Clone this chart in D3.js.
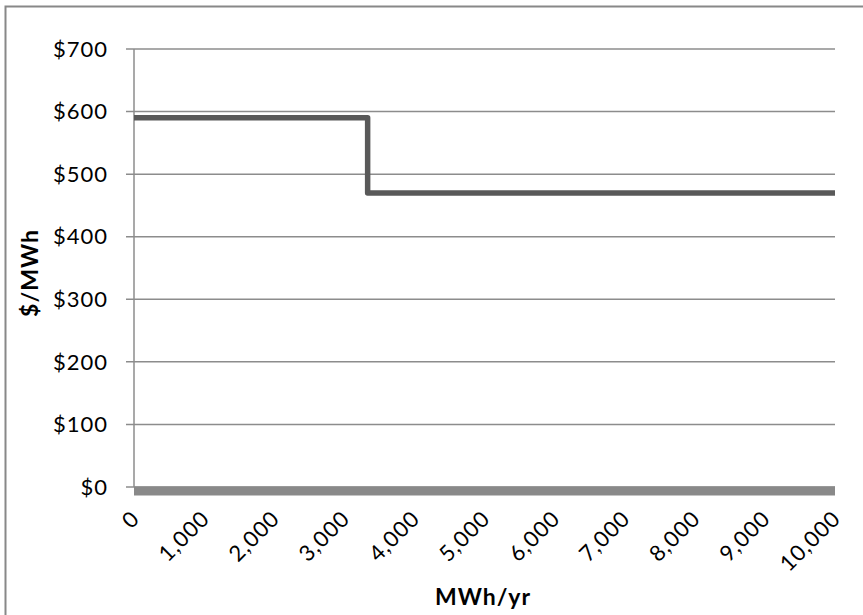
<!DOCTYPE html>
<html>
<head>
<meta charset="utf-8">
<script src="https://cdn.jsdelivr.net/npm/d3@7.9.0/dist/d3.min.js"></script>
<style>
  body { margin: 0; background: #fff; }
  svg { display: block; font-family: Lato, "Open Sans", sans-serif; }
</style>
</head>
<body>
<div id="chart"></div>
<script>
// step series: price by annual energy
const stepX = [0, 3333, 3333, 10000];
const stepY = [590, 590, 470, 470];
// flat series sitting on zero
const zeroX = [0, 10000];
const zeroY = [0, 0];
const yTicks = [0, 100, 200, 300, 400, 500, 600, 700];
const xTicks = [0, 1000, 2000, 3000, 4000, 5000, 6000, 7000, 8000, 9000, 10000];

const width = 863, height = 615;
const plot = { left: 134, right: 835, top: 49, bottom: 487 };

const svg = d3.select('#chart').append('svg')
  .attr('width', width).attr('height', height);

// chart border
svg.append('rect')
  .attr('x', 5.5).attr('y', 6.5)
  .attr('width', 900).attr('height', 700)
  .attr('fill', 'none').attr('stroke', '#888').attr('stroke-width', 2);

const x = d3.scaleLinear().domain([0, 10000]).range([plot.left, plot.right]);
const y = d3.scaleLinear().domain([0, 700]).range([plot.bottom, plot.top]);

// gridlines
svg.append('g')
  .selectAll('line')
  .data(yTicks)
  .join('line')
  .attr('x1', plot.left - 8).attr('x2', plot.right)
  .attr('y1', d => y(d)).attr('y2', d => y(d))
  .attr('stroke', '#8c8c8c').attr('stroke-width', 1.5);

// y axis line
svg.append('line')
  .attr('x1', plot.left).attr('x2', plot.left)
  .attr('y1', plot.top).attr('y2', plot.bottom)
  .attr('stroke', '#8c8c8c').attr('stroke-width', 1.5);

// y labels
svg.append('g')
  .selectAll('text')
  .data(yTicks)
  .join('text')
  .attr('x', 108).attr('y', d => y(d))
  .attr('dy', '0.35em')
  .attr('text-anchor', 'end')
  .attr('font-size', 22).attr('letter-spacing', 1)
  .text(d => '$' + d);

// x labels
const fmt = d3.format(',');
svg.append('g')
  .selectAll('text')
  .data(xTicks)
  .join('text')
  .attr('transform', d => `translate(${x(d) - 4},${509}) rotate(-45)`)
  .attr('text-anchor', 'end')
  .attr('dy', '0.7em')
  .attr('font-size', 22).attr('letter-spacing', 1)
  .text(d => fmt(d));

// zero series
const line = d3.line().x(d => x(d[0])).y(d => y(d[1]));
svg.append('path')
  .datum(zeroX.map((v, i) => [v, zeroY[i]]))
  .attr('d', line)
  .attr('transform', 'translate(0,4)')
  .attr('fill', 'none')
  .attr('stroke', '#898989').attr('stroke-width', 9);

// step series
svg.append('path')
  .datum(stepX.map((v, i) => [v, stepY[i]]))
  .attr('d', line)
  .attr('fill', 'none')
  .attr('stroke', '#595959').attr('stroke-width', 5.5)
  .attr('stroke-linejoin', 'round');

// axis titles
svg.append('text')
  .attr('x', 483).attr('y', 605)
  .attr('text-anchor', 'middle')
  .attr('font-size', 23).attr('font-weight', 'bold').attr('letter-spacing', 1)
  .text('MWh/yr');

svg.append('text')
  .attr('transform', `translate(38,${273}) rotate(-90)`)
  .attr('text-anchor', 'middle')
  .attr('font-size', 23).attr('font-weight', 'bold').attr('letter-spacing', 1)
  .text('$/MWh');
</script>
</body>
</html>
